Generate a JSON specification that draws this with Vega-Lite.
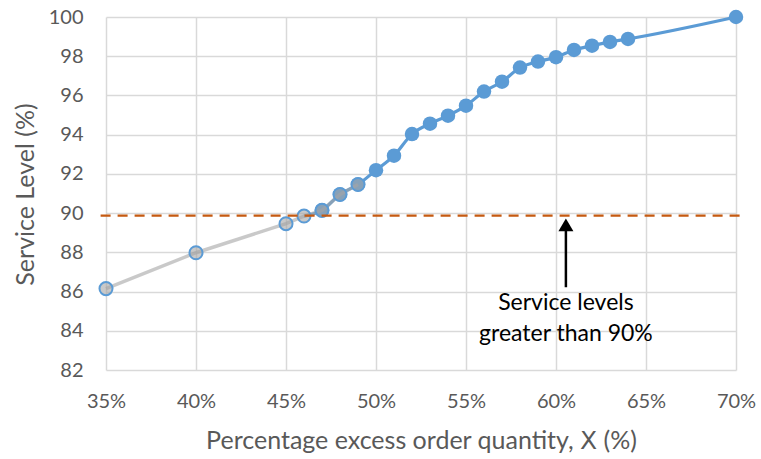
{
  "$schema": "https://vega.github.io/schema/vega-lite/v6.json",
  "width": 630,
  "height": 353,
  "autosize": {"type": "none"},
  "padding": {"left": 106, "top": 17, "right": 25, "bottom": 89},
  "background": "white",
  "config": {
    "view": {"stroke": null},
    "font": "Lato",
    "axis": {
      "labelFont": "Lato",
      "titleFont": "Lato",
      "labelColor": "#595959",
      "titleColor": "#595959",
      "labelFontSize": 20,
      "titleFontSize": 25,
      "titleFontWeight": "normal",
      "gridColor": "#d9d9d9",
      "gridWidth": 1.5,
      "domain": false,
      "ticks": false,
      "labelFlush": false,
      "labelOverlap": false
    },
    "axisY": {"labelOverlap": false},
    "axisQuantitative": {"labelOverlap": false}
  },
  "datasets": {
    "blue": [
      {"x": 46, "y": 89.85}, {"x": 47, "y": 90.14}, {"x": 48, "y": 90.95}, {"x": 49, "y": 91.46},
      {"x": 50, "y": 92.19}, {"x": 51, "y": 92.93}, {"x": 52, "y": 94.03}, {"x": 53, "y": 94.56},
      {"x": 54, "y": 94.97}, {"x": 55, "y": 95.48}, {"x": 56, "y": 96.2}, {"x": 57, "y": 96.7},
      {"x": 58, "y": 97.42}, {"x": 59, "y": 97.73}, {"x": 60, "y": 97.95}, {"x": 61, "y": 98.32},
      {"x": 62, "y": 98.54}, {"x": 63, "y": 98.73}, {"x": 64, "y": 98.88}, {"x": 70, "y": 100}
    ],
    "gray": [
      {"x": 35, "y": 86.15}, {"x": 40, "y": 87.98}, {"x": 45, "y": 89.46}, {"x": 46, "y": 89.85},
      {"x": 47, "y": 90.14}, {"x": 48, "y": 90.95}, {"x": 49, "y": 91.46}
    ],
    "note": [
      {"x": 60.55, "y0": 86.22, "y1": 89.3, "tip": 89.4, "ty": 85.05, "label": "Service levels\ngreater than 90%", "xs": 34.7, "xe": 70.3, "level": 89.87}
    ]
  },
  "encoding": {
    "x": {"field": "x", "type": "quantitative", "scale": {"domain": [35, 70], "nice": false},
      "axis": {"values": [35, 40, 45, 50, 55, 60, 65, 70], "labelExpr": "datum.value + '%'", "labelPadding": 21,
        "labelOverlap": false, "labelFlush": false,
        "title": "Percentage excess order quantity, Ⅹ (%)", "titleBaseline": "middle", "titleY": 70}},
    "y": {"field": "y", "type": "quantitative", "scale": {"domain": [82, 100], "nice": false, "zero": false},
      "axis": {"values": [82, 84, 86, 88, 90, 92, 94, 96, 98, 100], "labelPadding": 23,
        "labelOverlap": false, "labelFlush": false, "labelBound": false,
        "title": "Service Level (%)", "titleX": -81, "titleY": 177, "titleBaseline": "middle", "titleAngle": -90}}
  },
  "layer": [
    {
      "data": {"name": "blue"},
      "mark": {"type": "line", "color": "#5b9bd5", "strokeWidth": 3.2, "interpolate": "monotone"}
    },
    {
      "data": {"name": "blue"},
      "transform": [{"filter": "datum.x >= 47"}],
      "mark": {"type": "point", "shape": "circle", "filled": true, "color": "#5b9bd5", "size": 210, "opacity": 1}
    },
    {
      "data": {"name": "gray"},
      "mark": {"type": "line", "color": "#a5a5a5", "opacity": 0.6, "strokeWidth": 3.5}
    },
    {
      "data": {"name": "gray"},
      "mark": {"type": "point", "shape": "circle", "filled": false, "fill": "#a5a5a5", "fillOpacity": 0.6, "stroke": "#5b9bd5", "strokeOpacity": 1, "strokeWidth": 2, "size": 170, "opacity": 1}
    },
    {
      "data": {"name": "note"},
      "mark": {"type": "rule", "color": "#c55a11", "strokeWidth": 2.2, "strokeDash": [10, 7]},
      "encoding": {
        "x": {"field": "xs", "type": "quantitative"},
        "x2": {"field": "xe"},
        "y": {"field": "level", "type": "quantitative"}
      }
    },
    {
      "data": {"name": "note"},
      "mark": {"type": "rule", "color": "black", "strokeWidth": 2.5},
      "encoding": {
        "y": {"field": "y0", "type": "quantitative"},
        "y2": {"field": "y1"}
      }
    },
    {
      "data": {"name": "note"},
      "mark": {"type": "point", "shape": "triangle-up", "filled": true, "color": "black", "size": 225, "opacity": 1},
      "encoding": {
        "y": {"field": "tip", "type": "quantitative"}
      }
    },
    {
      "data": {"name": "note"},
      "mark": {"type": "text", "font": "Lato", "fontSize": 23, "color": "black", "align": "center", "baseline": "alphabetic", "lineBreak": "\n", "lineHeight": 31},
      "encoding": {
        "y": {"field": "ty", "type": "quantitative"},
        "text": {"field": "label"}
      }
    }
  ]
}
